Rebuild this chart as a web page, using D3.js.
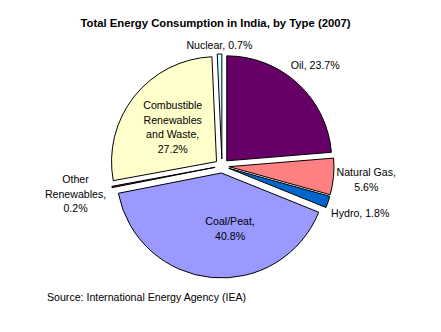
<!DOCTYPE html>
<html><head><meta charset="utf-8">
<script src="https://cdn.jsdelivr.net/npm/d3@7"></script>
<style>
html,body{margin:0;padding:0;background:#fff;}
text{font-family:Arial,"Liberation Sans",sans-serif;}
</style></head>
<body>
<svg id="c" width="441" height="332"></svg>
<script>
// Data (clockwise from 12 o'clock)
const categories = ["Oil", "Natural Gas", "Hydro", "Coal/Peat", "Other Renewables", "Combustible Renewables and Waste", "Nuclear"];
const values = [23.7, 5.6, 1.8, 40.8, 0.2, 27.2, 0.7];
const labelLines = [
  ["Oil, 23.7%"],
  ["Natural Gas,", "5.6%"],
  ["Hydro, 1.8%"],
  ["Coal/Peat,", "40.8%"],
  ["Other", "Renewables,", "0.2%"],
  ["Combustible", "Renewables", "and Waste,", "27.2%"],
  ["Nuclear, 0.7%"]
];
const colors = ["#660066", "#FF8080", "#0066CC", "#9999FF", "#993366", "#FFFFCC", "#CCFFFF"];
const title = "Total Energy Consumption in India, by Type (2007)";
const source = "Source: International Energy Agency (IEA)";

// Layout
const cx = 222, cy = 166, R = 105, explode = 7;
const labelRadius = [1.31, 1.38, 1.39, 0.6, 1.42, 0.6, 1.15];
const labelNudge = [[0,0],[0,0],[0,0],[14,0],[0,0],[0,0],[0,0]];
const lineH = 14.5;

const svg = d3.select("#c");
svg.append("rect").attr("width",441).attr("height",332).attr("fill","#fff");

svg.append("text").attr("x",215.5).attr("y",27).attr("text-anchor","middle")
  .attr("font-size","11.3px").attr("font-weight","bold").text(title);
svg.append("text").attr("x",47).attr("y",301)
  .attr("font-size","10.6px").text(source);

const pie = d3.pie().sort(null).value(d => d).startAngle(0).endAngle(2*Math.PI);
const arcs = pie(values);
const arc = d3.arc().innerRadius(0).outerRadius(R);

const g = svg.append("g").attr("transform", `translate(${cx},${cy})`);
arcs.forEach((a, i) => {
  const mid = (a.startAngle + a.endAngle) / 2;
  const ox = explode * Math.sin(mid), oy = -explode * Math.cos(mid);
  g.append("path").attr("d", arc(a))
    .attr("transform", `translate(${ox},${oy})`)
    .attr("fill", colors[i]).attr("stroke", "#000").attr("stroke-width", 1)
    .attr("stroke-linejoin","miter");
  const lr = R * labelRadius[i];
  const lx = lr * Math.sin(mid) + labelNudge[i][0];
  const ly = -lr * Math.cos(mid) + labelNudge[i][1];
  const lines = labelLines[i];
  const t = g.append("text").attr("text-anchor","middle").attr("font-size","10.6px").attr("fill","#000");
  const y0 = ly - (lines.length - 1) * lineH / 2 + 4;
  lines.forEach((s, k) => {
    t.append("tspan").attr("x", lx).attr("y", y0 + k * lineH).text(s);
  });
});
</script>
</body></html>
